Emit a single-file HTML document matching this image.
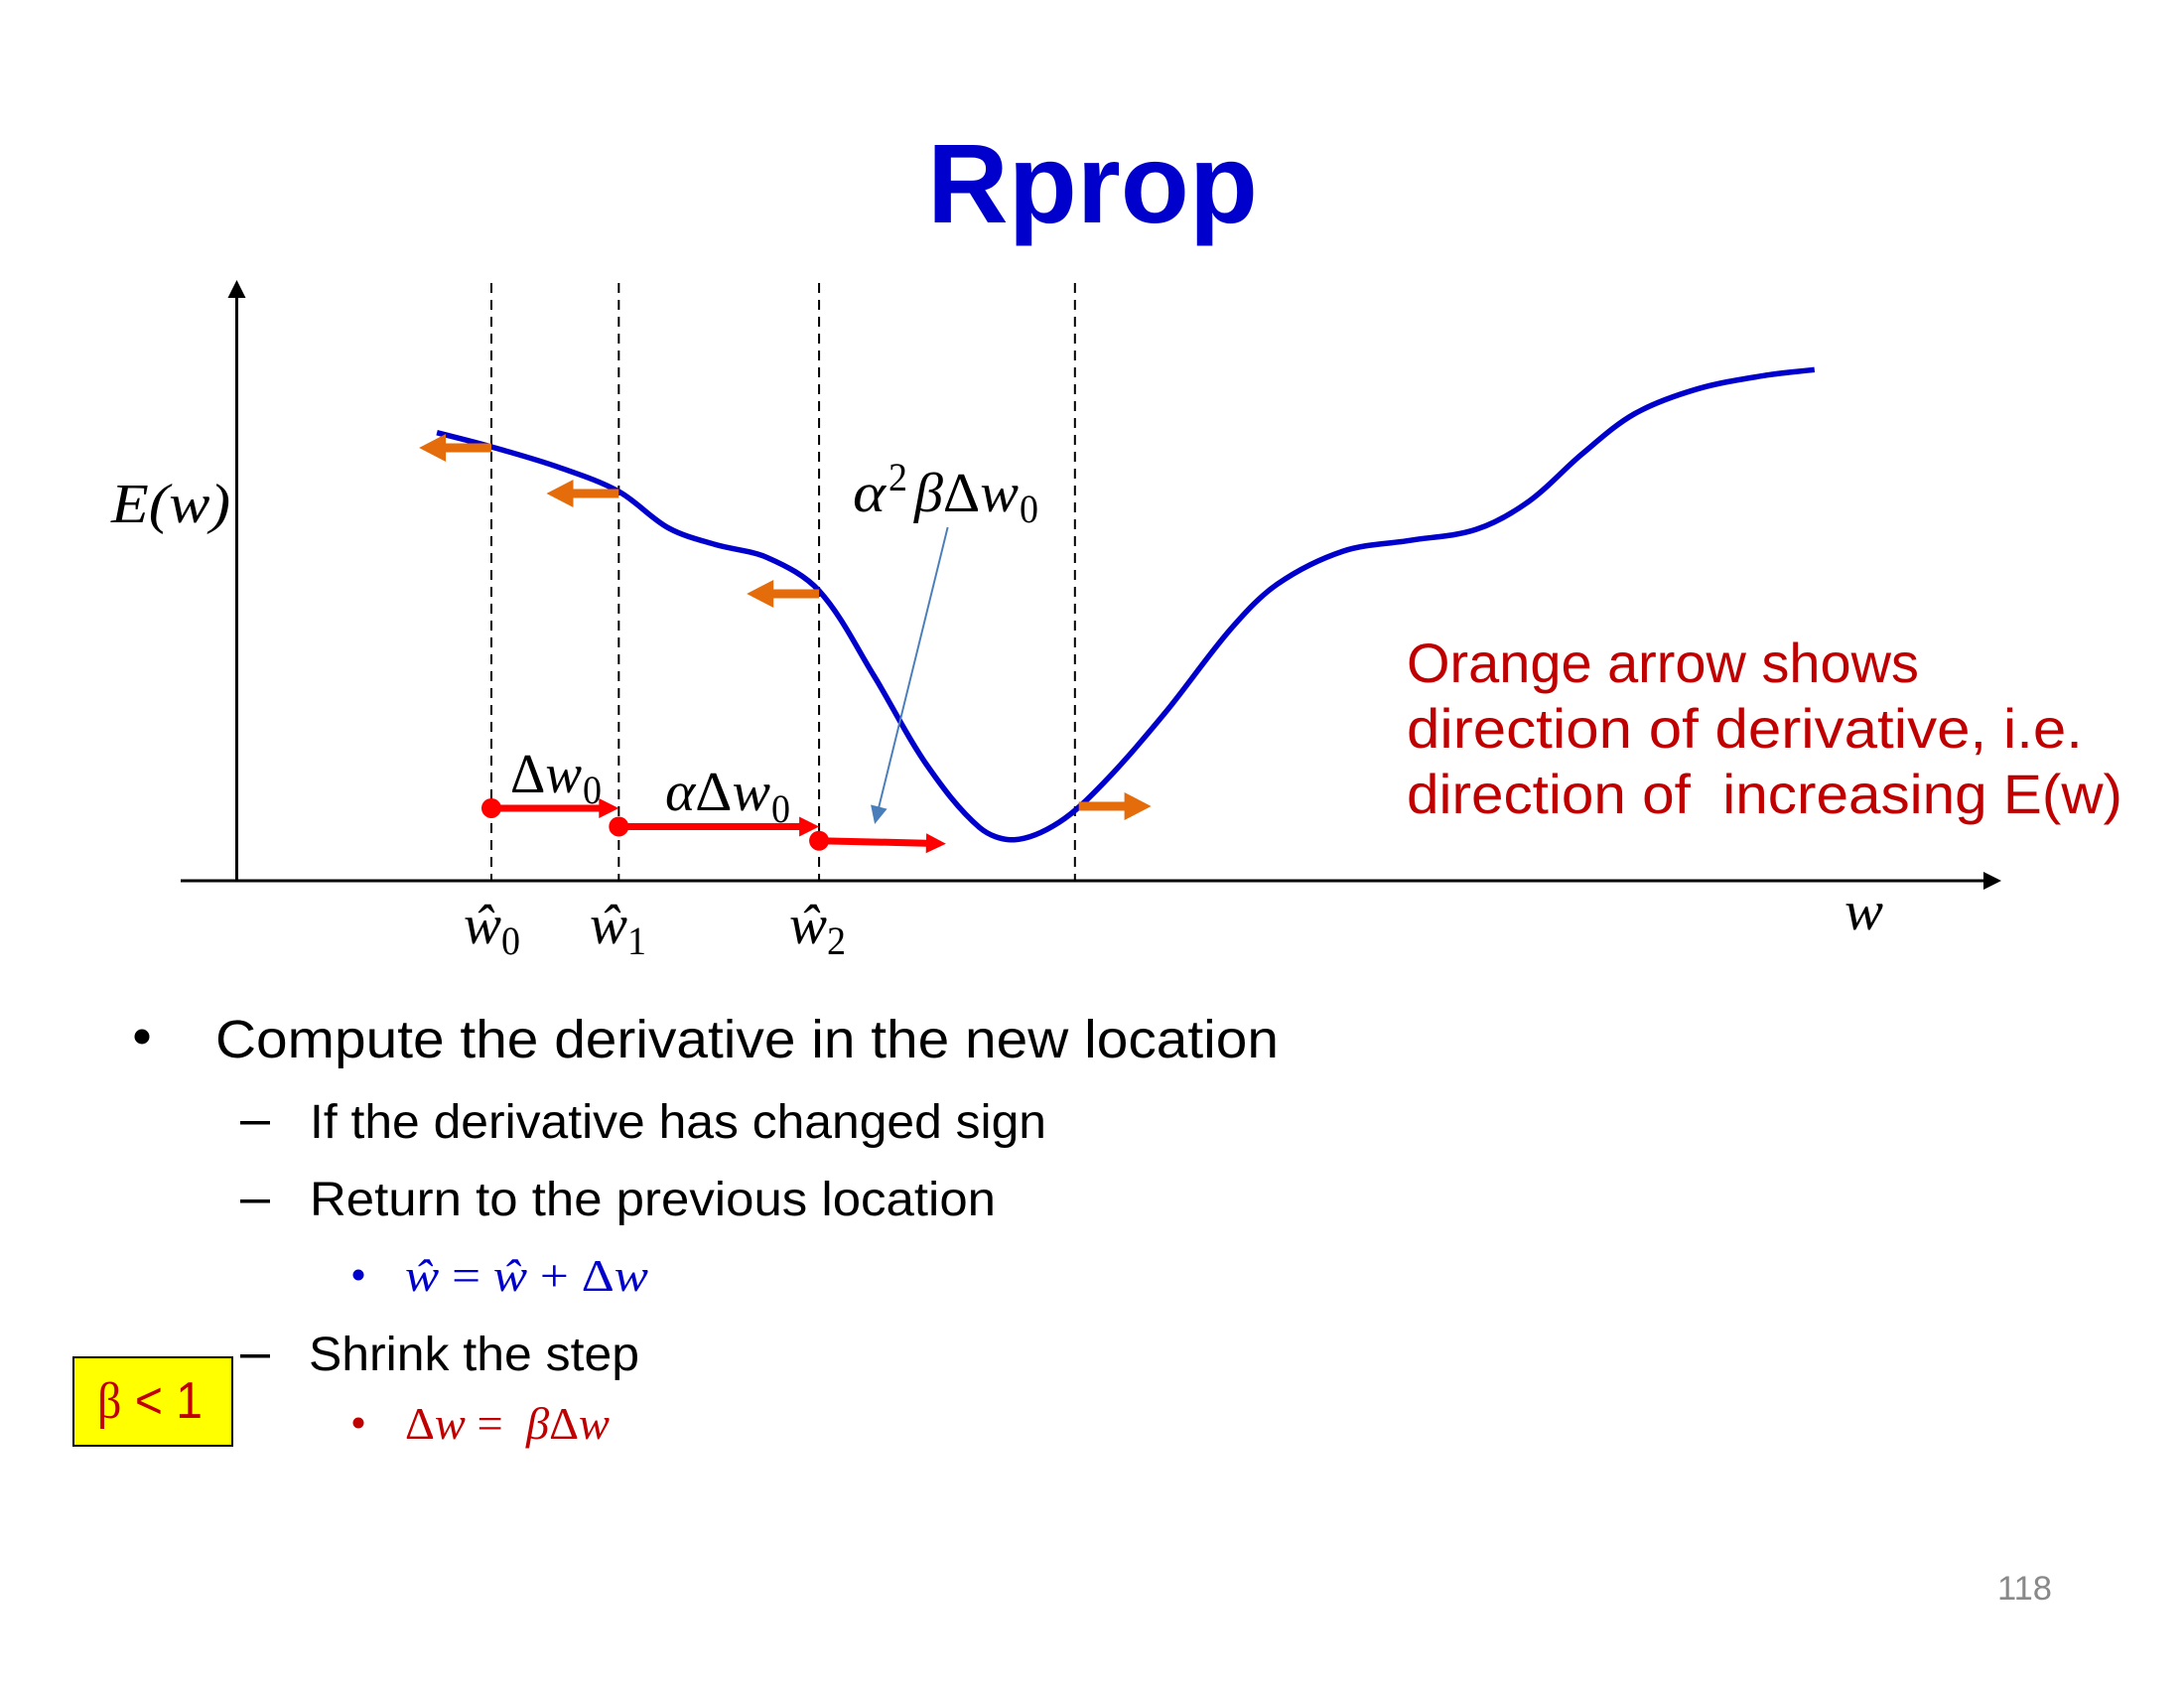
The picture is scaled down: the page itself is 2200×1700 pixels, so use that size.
<!DOCTYPE html>
<html lang="en">
<head>
<meta charset="utf-8">
<title>Rprop</title>
<style>
html,body{margin:0;padding:0;background:#fff;width:2200px;height:1700px;overflow:hidden}
svg{display:block}
.sans{font-family:"Liberation Sans",sans-serif}
.math{font-family:"Liberation Serif",serif;font-style:italic;fill:#000}
.up{font-style:normal}
.body{font-family:"Liberation Sans",sans-serif;fill:#000}
.pre{white-space:pre}
</style>
</head>
<body>
<svg id="slide" width="2200" height="1700" viewBox="0 0 2200 1700" xmlns="http://www.w3.org/2000/svg">
  <text class="sans" x="1100.5" y="224" text-anchor="middle" font-size="113" font-weight="700" fill="#0000cc" textLength="333" lengthAdjust="spacingAndGlyphs">Rprop</text>

  <g id="chart"></g>

  <text class="math" x="112" y="526" font-size="56" textLength="120" lengthAdjust="spacingAndGlyphs">E(w)</text>
  <text class="math" x="1858" y="936" font-size="56" textLength="39" lengthAdjust="spacingAndGlyphs">w</text>

  <g><text class="math" x="467" y="950" font-size="56" textLength="38" lengthAdjust="spacingAndGlyphs">ŵ</text><text class="math up" x="505" y="961" font-size="40" textLength="19" lengthAdjust="spacingAndGlyphs">0</text></g>
  <g><text class="math" x="594" y="950" font-size="56" textLength="38" lengthAdjust="spacingAndGlyphs">ŵ</text><text class="math up" x="632" y="961" font-size="40" textLength="19" lengthAdjust="spacingAndGlyphs">1</text></g>
  <g><text class="math" x="795" y="950" font-size="56" textLength="38" lengthAdjust="spacingAndGlyphs">ŵ</text><text class="math up" x="833" y="961" font-size="40" textLength="19" lengthAdjust="spacingAndGlyphs">2</text></g>

  <g><text class="math" x="514" y="798" font-size="56" textLength="72" lengthAdjust="spacingAndGlyphs"><tspan class="up">Δ</tspan>w</text><text class="math up" x="587" y="809" font-size="40" textLength="19" lengthAdjust="spacingAndGlyphs">0</text></g>
  <g><text class="math" x="670" y="816" font-size="56" textLength="106" lengthAdjust="spacingAndGlyphs">α<tspan class="up">Δ</tspan>w</text><text class="math up" x="777" y="828" font-size="40" textLength="19" lengthAdjust="spacingAndGlyphs">0</text></g>
  <g><text class="math" x="859" y="515" font-size="56" textLength="33" lengthAdjust="spacingAndGlyphs">α</text><text class="math up" x="895" y="494" font-size="40" textLength="19" lengthAdjust="spacingAndGlyphs">2</text><text class="math" x="921" y="515" font-size="56" textLength="105" lengthAdjust="spacingAndGlyphs">β<tspan class="up">Δ</tspan>w</text><text class="math up" x="1027" y="526" font-size="40" textLength="19" lengthAdjust="spacingAndGlyphs">0</text></g>

  <g class="sans" font-size="56" fill="#c00000">
    <text x="1417" y="687" textLength="516" lengthAdjust="spacingAndGlyphs">Orange arrow shows</text>
    <text x="1417" y="753" textLength="681" lengthAdjust="spacingAndGlyphs">direction of derivative, i.e.</text>
    <text class="pre" x="1417" y="819" textLength="721" lengthAdjust="spacingAndGlyphs">direction of  increasing E(w)</text>
  </g>

  <circle cx="143" cy="1044" r="7.5" fill="#000"/>
  <text class="body" x="217" y="1065" font-size="54" textLength="1071" lengthAdjust="spacingAndGlyphs">Compute the derivative in the new location</text>

  <rect x="242" y="1129" width="30" height="3.5" fill="#000"/>
  <text class="body" x="312" y="1146" font-size="48" textLength="742" lengthAdjust="spacingAndGlyphs">If the derivative has changed sign</text>

  <rect x="242" y="1208" width="30" height="3.5" fill="#000"/>
  <text class="body" x="312" y="1224" font-size="48" textLength="691" lengthAdjust="spacingAndGlyphs">Return to the previous location</text>

  <circle cx="361" cy="1284" r="5.5" fill="#0000cc"/>
  <text class="math" style="fill:#0000cc" x="408" y="1300" font-size="46" textLength="245" lengthAdjust="spacingAndGlyphs">ŵ <tspan class="up">=</tspan> ŵ <tspan class="up">+ Δ</tspan>w</text>

  <rect x="242" y="1364" width="30" height="3.5" fill="#000"/>
  <text class="body" x="311" y="1380" font-size="48" textLength="333" lengthAdjust="spacingAndGlyphs">Shrink the step</text>

  <rect x="74" y="1367" width="160" height="89" fill="#ffff00" stroke="#000" stroke-width="2"/>
  <text class="pre" x="98" y="1428" font-family="'Liberation Sans',sans-serif" font-size="52" fill="#c00000" textLength="106" lengthAdjust="spacingAndGlyphs"><tspan font-family="'Liberation Serif',serif">β</tspan> &lt; 1</text>

  <circle cx="361" cy="1433" r="5.5" fill="#c00000"/>
  <text class="math pre" style="fill:#c00000" x="408" y="1449" font-size="46" textLength="206" lengthAdjust="spacingAndGlyphs"><tspan class="up">Δ</tspan>w <tspan class="up">=</tspan>  β<tspan class="up">Δ</tspan>w</text>

  <text class="sans" x="2012" y="1611" font-size="34" fill="#898989" textLength="55" lengthAdjust="spacingAndGlyphs">118</text>
</svg>

<script>
// Error curve samples: w and E(w) in axis units (0-100)
const curveW = [11.34,14.43,18.27,21.65,24.46,27.09,30.09,33.00,36.09,39.09,42.09,44.06,46.59,49.22,52.59,56.34,58.97,62.72,66.47,70.22,73.22,76.22,79.22,82.78,86.54,89.41];
const curveE = [74.60,72.23,68.81,64.79,58.73,55.98,53.77,48.26,34.21,19.34,8.88,6.83,9.70,16.58,27.88,41.93,49.37,54.88,56.64,58.46,63.14,70.99,77.74,81.87,84.08,85.07];
// Iterates marked by dashed guides
const guideW = [14.43,21.65,33.00,47.50];
// Orange derivative-direction arrows
const orangeW = [14.43,21.65,33.00,47.72];
const orangeE = [72.07,64.46,47.77,12.40];
const orangeDelta = [-4.1,-4.1,-4.1,4.1];
// Red update steps
const stepStartW = [14.43,21.65,33.00];
const stepStartE = [12.07,9.01,6.66];
const stepEndW = [21.65,33.00,40.19];
const stepEndE = [12.07,9.01,6.17];
// Annotation arrow endpoints
const noteArrowW = [40.29,36.15];
const noteArrowE = [58.84,9.42];

const NS = 'http://www.w3.org/2000/svg';
const chart = document.getElementById('chart');
function xScale(w){ return 238.5 + w * 17.775; }
function yScale(e){ return 887 - e * 6.05; }
function make(tag, attrs){
  const el = document.createElementNS(NS, tag);
  for (const k in attrs) el.setAttribute(k, attrs[k]);
  chart.appendChild(el);
  return el;
}
function arrowPoints(x1,y1,x2,y2,shaft,headLen,headHalf){
  const dx=x2-x1, dy=y2-y1, L=Math.hypot(dx,dy), ux=dx/L, uy=dy/L, nx=-uy, ny=ux;
  const bx=x2-ux*headLen, by=y2-uy*headLen;
  const s=shaft/2;
  const pts=[[x1+nx*s,y1+ny*s],[bx+nx*s,by+ny*s],[bx+nx*headHalf,by+ny*headHalf],[x2,y2],[bx-nx*headHalf,by-ny*headHalf],[bx-nx*s,by-ny*s],[x1-nx*s,y1-ny*s]];
  return pts.map(p=>p[0].toFixed(1)+','+p[1].toFixed(1)).join(' ');
}

// Axes
const yAxis = make('line',{x1:xScale(0),y1:yScale(0)+1,x2:xScale(0),y2:yScale(100)+18,stroke:'#000','stroke-width':3});


const yHead = make('polygon',{points:`${xScale(0)},${yScale(100)} ${xScale(0)-9},${yScale(100)+18} ${xScale(0)+9},${yScale(100)+18}`,fill:'#000'});


const xAxis = make('line',{x1:182,y1:yScale(0),x2:xScale(100)-18,y2:yScale(0),stroke:'#000','stroke-width':3});


const xHead = make('polygon',{points:`${xScale(100)},${yScale(0)} ${xScale(100)-18},${yScale(0)-9} ${xScale(100)-18},${yScale(0)+9}`,fill:'#000'});



// Dashed guides
guideW.forEach(function(w){
  const g = make('line',{x1:xScale(w),y1:yScale(99.5),x2:xScale(w),y2:yScale(0),stroke:'#000','stroke-width':2,'stroke-dasharray':'10 7'});
  
  
});

// Curve: smooth spline with chord-length handles through the samples
const px = curveW.map(xScale);
const py = curveE.map(yScale);
function tangent(i){
  const a=Math.max(i-1,0), b=Math.min(i+1,px.length-1);
  const dx=px[b]-px[a], dy=py[b]-py[a], L=Math.hypot(dx,dy)||1;
  return [dx/L,dy/L];
}
let d = `M${px[0].toFixed(1)} ${py[0].toFixed(1)}`;
for (let i=1;i<px.length;i++){
  const L=Math.hypot(px[i]-px[i-1],py[i]-py[i-1])/3;
  const t0=tangent(i-1), t1=tangent(i);
  d+=` C${(px[i-1]+t0[0]*L).toFixed(1)} ${(py[i-1]+t0[1]*L).toFixed(1)} ${(px[i]-t1[0]*L).toFixed(1)} ${(py[i]-t1[1]*L).toFixed(1)} ${px[i].toFixed(1)} ${py[i].toFixed(1)}`;
}
const curve = make('path',{d:d,fill:'none',stroke:'#0000cc','stroke-width':5.5});



// Orange arrows
orangeW.forEach(function(w,i){
  const a = make('polygon',{points:arrowPoints(xScale(w),yScale(orangeE[i]),xScale(w+orangeDelta[i]),yScale(orangeE[i]),9,27,14),fill:'#e46c0a'});
  
  
});

// Red steps
stepStartW.forEach(function(w,i){
  const a = make('polygon',{points:arrowPoints(xScale(w),yScale(stepStartE[i]),xScale(stepEndW[i]),yScale(stepEndE[i]),7,20,10),fill:'#ff0000'});
  
  
  const c = make('circle',{cx:xScale(w),cy:yScale(stepStartE[i]),r:10,fill:'#ff0000'});
  
  
});

// Thin annotation arrow
const note = make('polygon',{points:arrowPoints(xScale(noteArrowW[0]),yScale(noteArrowE[0]),xScale(noteArrowW[1]),yScale(noteArrowE[1]),2,18,8.5),fill:'#4a7ebb'});


</script>
</body>
</html>
